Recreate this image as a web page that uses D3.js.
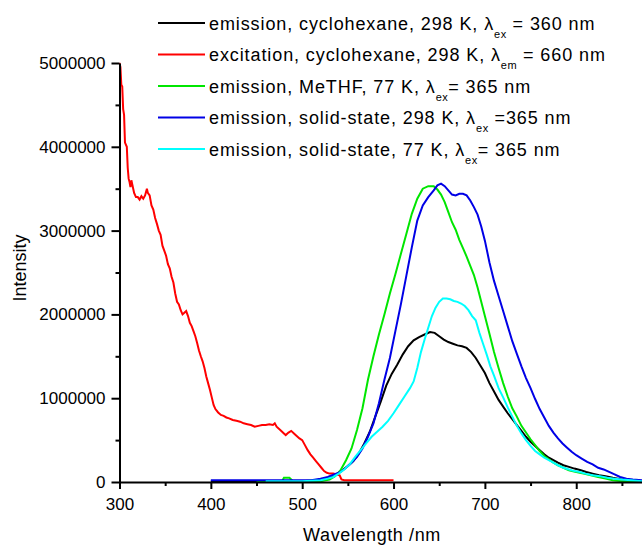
<!DOCTYPE html>
<html><head><meta charset="utf-8">
<script src="https://cdn.jsdelivr.net/npm/d3@7"></script>
<style>
html,body{margin:0;padding:0;background:#fff;}
text{font-family:"Liberation Sans",Arial,sans-serif;fill:#000;}
</style></head>
<body><svg id="chart" width="642" height="546"></svg>
<script>
// ---- data (intensity in millions) ----
const xTicks = [300,400,500,600,700,800];
const xMinor = [350,450,550,650,750,850];
const yTicks = [0,1000000,2000000,3000000,4000000,5000000];
const yMinor = [500000,1500000,2500000,3500000,4500000];

const blackWl = [400,500,515,525,532,538,544,550,556,562,568,574,580,586,592,598,604,610,616,622,628,634,640,645,650,655,660,665,670,675,680,685,690,695,700,705,710,715,720,725,730,735,740,745,750,755,760,765,770,775,780,786,792,798,805,811,818,825,832,840,850,860,872];
const blackI  = [0.01,0.01,0.02,0.04,0.06,0.09,0.14,0.19,0.25,0.34,0.46,0.60,0.78,0.96,1.15,1.29,1.40,1.52,1.62,1.69,1.73,1.76,1.79,1.78,1.74,1.70,1.67,1.65,1.63,1.62,1.60,1.55,1.48,1.39,1.30,1.18,1.08,0.98,0.90,0.82,0.75,0.68,0.61,0.54,0.48,0.43,0.38,0.33,0.29,0.26,0.23,0.20,0.18,0.16,0.14,0.12,0.10,0.08,0.07,0.05,0.03,0.02,0.01];

const redWl = [300,301,302,303,304,305,306,308,309,310,311,312,313,314,316,318,320,322,324,326,328,330,331,333,335,337,339,341,343,345,347,349,351,353,355,357,359,361,363,365,367,369,371,373,375,377,379,381,383,385,387,389,391,393,395,397,399,401,403,405,408,411,414,417,420,424,428,432,436,440,444,448,452,456,460,464,468,470,472,476,480,482,485,488,491,494,497,500,503,506,509,512,515,518,521,524,527,530,534,538,541,543,546,560,580,600];
const redI  = [5.00,4.95,4.74,4.72,4.45,4.38,4.05,4.00,3.75,3.62,3.58,3.52,3.60,3.55,3.45,3.40,3.40,3.37,3.41,3.38,3.42,3.50,3.45,3.42,3.30,3.25,3.15,3.08,3.00,2.95,2.82,2.76,2.70,2.60,2.55,2.45,2.38,2.25,2.15,2.12,2.05,2.00,2.02,2.04,1.98,1.90,1.86,1.80,1.74,1.66,1.57,1.50,1.44,1.36,1.26,1.18,1.10,1.01,0.92,0.87,0.83,0.80,0.79,0.77,0.76,0.74,0.73,0.72,0.70,0.69,0.68,0.66,0.67,0.68,0.68,0.69,0.68,0.70,0.66,0.62,0.58,0.56,0.59,0.61,0.58,0.55,0.52,0.50,0.44,0.38,0.33,0.29,0.25,0.21,0.17,0.13,0.11,0.10,0.10,0.09,0.08,0.03,0.02,0.02,0.02,0.02];

const greenWl = [450,478,480,486,490,520,530,536,542,548,554,560,566,572,578,584,590,596,602,608,614,620,626,632,638,644,648,652,656,660,664,668,672,676,680,684,688,692,696,700,705,710,715,720,725,730,735,740,745,750,755,760,765,770,775,780,786,792,800,808,816,824,832,840,850,872];
const greenI  = [0.01,0.01,0.05,0.05,0.01,0.01,0.03,0.07,0.14,0.26,0.40,0.62,0.88,1.22,1.50,1.76,2.00,2.25,2.48,2.72,2.96,3.20,3.38,3.50,3.53,3.53,3.49,3.43,3.34,3.22,3.10,3.01,2.89,2.79,2.69,2.58,2.47,2.32,2.15,1.98,1.77,1.55,1.36,1.18,1.02,0.88,0.78,0.67,0.59,0.51,0.44,0.37,0.31,0.27,0.23,0.20,0.17,0.14,0.12,0.10,0.08,0.06,0.04,0.02,0.01,0.01];

const blueWl = [400,460,510,520,528,535,542,548,554,560,566,572,578,584,590,596,602,608,614,620,626,632,638,644,648,652,656,660,664,668,672,676,680,684,688,692,696,700,705,710,715,720,725,730,735,740,745,750,755,760,765,770,775,780,785,790,795,800,806,812,818,824,830,836,842,848,855,862,872];
const blueI  = [0.02,0.02,0.02,0.04,0.06,0.09,0.12,0.17,0.23,0.30,0.40,0.54,0.70,0.94,1.22,1.48,1.80,2.12,2.46,2.80,3.12,3.30,3.40,3.48,3.54,3.56,3.53,3.48,3.43,3.42,3.44,3.44,3.42,3.36,3.28,3.19,3.05,2.88,2.62,2.40,2.22,2.04,1.86,1.68,1.53,1.38,1.24,1.12,0.99,0.87,0.77,0.67,0.59,0.52,0.46,0.41,0.36,0.32,0.28,0.24,0.21,0.17,0.15,0.12,0.09,0.06,0.04,0.03,0.02];

const cyanWl = [460,500,520,528,534,540,546,552,558,564,570,576,582,588,594,600,606,612,618,622,626,630,634,638,642,646,650,654,658,662,666,670,674,678,682,686,690,694,698,702,706,710,715,720,725,730,735,740,745,750,755,760,765,770,775,780,786,792,798,804,810,818,826,834,842,850,860,872];
const cyanI  = [0.01,0.01,0.02,0.04,0.06,0.10,0.15,0.21,0.30,0.38,0.46,0.54,0.60,0.66,0.73,0.82,0.92,1.02,1.12,1.20,1.36,1.55,1.70,1.84,1.98,2.08,2.15,2.19,2.19,2.18,2.16,2.15,2.13,2.10,2.05,1.98,1.93,1.78,1.65,1.52,1.38,1.27,1.12,1.01,0.89,0.78,0.67,0.58,0.50,0.43,0.37,0.33,0.29,0.26,0.23,0.20,0.17,0.15,0.13,0.12,0.10,0.08,0.07,0.05,0.04,0.03,0.02,0.01];

const seriesNames = [
  ["emission, cyclohexane, 298 K, λ","ex"," = 360 nm"],
  ["excitation, cyclohexane, 298 K, λ","em"," = 660 nm"],
  ["emission, MeTHF, 77 K, λ","ex","= 365 nm"],
  ["emission, solid-state, 298 K, λ","ex"," =365 nm"],
  ["emission, solid-state, 77 K, λ","ex","= 365 nm"]
];
const seriesColors = ["#000000","#ff0000","#00e600","#0000e6","#00ffff"];
const seriesWl = [blackWl, redWl, greenWl, blueWl, cyanWl];
const seriesI = [blackI, redI, greenI, blueI, cyanI];

// ---- drawing ----
const svg = d3.select("#chart");
const W = 642, H = 546;
const x = d3.scaleLinear().domain([300, 872]).range([119.5, 642]);
const y = d3.scaleLinear().domain([0, 5000000]).range([482, 63]);

svg.append("defs").append("clipPath").attr("id","clip")
  .append("rect").attr("x",119).attr("y",0).attr("width",W-119).attr("height",483);

const line = d3.line().x(d => x(d[0])).y(d => y(d[1]*1e6));
const plot = svg.append("g").attr("clip-path","url(#clip)");
seriesWl.forEach((wl, i) => {
  const pts = wl.map((w, j) => [w, seriesI[i][j]]);
  plot.append("path").datum(pts)
    .attr("fill","none").attr("stroke",seriesColors[i])
    .attr("stroke-width",2).attr("stroke-linejoin","miter")
    .attr("d", line);
});

// axes
const fmt = d3.format("d");
const xAxis = svg.append("g").attr("transform","translate(0,482)")
  .call(d3.axisBottom(x).tickValues(xTicks).tickFormat(fmt).tickSize(7).tickSizeOuter(0).tickPadding(9));
const xAxisMinor = svg.append("g").attr("transform","translate(0,482)")
  .call(d3.axisBottom(x).tickValues(xMinor).tickFormat("").tickSize(4).tickSizeOuter(0));
const yAxis = svg.append("g").attr("transform","translate(119.5,0)")
  .call(d3.axisLeft(y).tickValues(yTicks).tickFormat(fmt).tickSize(8).tickSizeOuter(0).tickPadding(6));
const yAxisMinor = svg.append("g").attr("transform","translate(119.5,0)")
  .call(d3.axisLeft(y).tickValues(yMinor).tickFormat("").tickSize(4).tickSizeOuter(0));

[xAxis, xAxisMinor, yAxis, yAxisMinor].forEach(g => {
  g.select(".domain").attr("stroke","#000").attr("stroke-width",2);
  g.selectAll(".tick line").attr("stroke","#000").attr("stroke-width",2);
  g.selectAll("text").attr("font-size",17).attr("font-family","Liberation Sans, Arial, sans-serif").attr("fill","#000");
});
xAxisMinor.select(".domain").remove();
yAxisMinor.select(".domain").remove();

// axis titles
svg.append("text").attr("x",372).attr("y",541).attr("text-anchor","middle")
  .attr("font-size",18).attr("letter-spacing",0.6).text("Wavelength /nm");
svg.append("text").attr("transform","translate(26,268) rotate(-90)").attr("text-anchor","middle")
  .attr("font-size",18).text("Intensity");

// legend
const legend = svg.append("g");
seriesNames.forEach((parts, i) => {
  const ry = 23 + i*31.5;
  legend.append("line").attr("x1",158).attr("x2",205).attr("y1",ry).attr("y2",ry)
    .attr("stroke",seriesColors[i]).attr("stroke-width",2);
  const t = legend.append("text").attr("x",209).attr("y",ry+6.5)
    .attr("font-size",18).attr("letter-spacing",0.9);
  t.append("tspan").text(parts[0]);
  t.append("tspan").attr("font-size",11).attr("dy",8).attr("letter-spacing",0.5).text(parts[1]);
  t.append("tspan").attr("dy",-8).text(parts[2]);
});
</script></body></html>
